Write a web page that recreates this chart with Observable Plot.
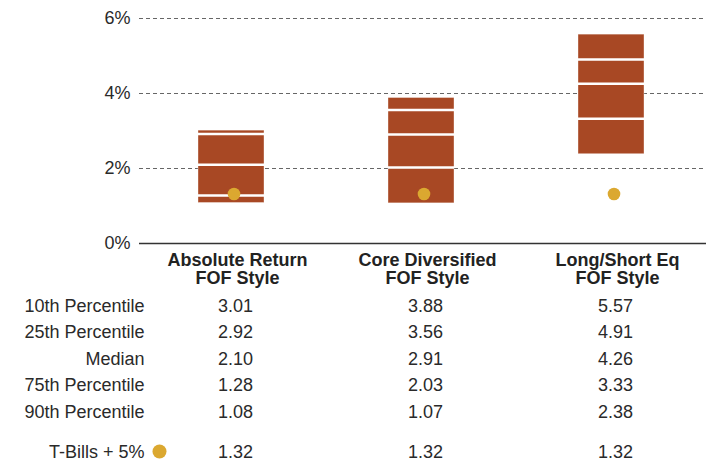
<!DOCTYPE html>
<html>
<head>
<meta charset="utf-8">
<script src="https://cdn.jsdelivr.net/npm/d3@7"></script>
<script src="https://cdn.jsdelivr.net/npm/@observablehq/plot@0.6"></script>
<style>
  html, body { margin: 0; padding: 0; background: #fff; }
</style>
</head>
<body>
<div id="chart"></div>
<script>
// ---- data ----
const categories = ["Absolute Return\nFOF Style", "Core Diversified\nFOF Style", "Long/Short Eq\nFOF Style"];
const p10 = [3.01, 3.88, 5.57];
const p25 = [2.92, 3.56, 4.91];
const median = [2.10, 2.91, 4.26];
const p75 = [1.28, 2.03, 3.33];
const p90 = [1.08, 1.07, 2.38];
const tbills = [1.32, 1.32, 1.32];
const rowLabels = ["10th Percentile", "25th Percentile", "Median", "75th Percentile", "90th Percentile", "T-Bills + 5%"];
const yTicks = [0, 2, 4, 6];

// ---- derived table ----
const series = [p10, p25, median, p75, p90, tbills];
const boxes = categories.map((c, i) => ({cat: c, lo: p90[i], hi: p10[i]}));
const lines = categories.flatMap((c, i) => [p25[i], median[i], p75[i]].map(v => ({cat: c, v})));
const dots = categories.map((c, i) => ({cat: c, v: tbills[i]}));

const BAR = "#a84824";
const GOLD = "#dba830";
const TXT = "#2a2a2a";
const rowDy = [68, 94.5, 121, 147.5, 174, 214];

const tableMarks = [];
series.forEach((vals, r) => {
  tableMarks.push(Plot.text(categories.map((c, i) => ({cat: c, v: vals[i]})), {
    x: "cat", text: d => d.v.toFixed(2), frameAnchor: "bottom",
    lineAnchor: "bottom", dy: rowDy[r], dx: 4, fill: TXT, fontSize: 18
  }));
  tableMarks.push(Plot.text([rowLabels[r]], {
    text: d => d, frameAnchor: "bottom-left", textAnchor: "end",
    lineAnchor: "bottom", dx: 9, dy: rowDy[r], fill: TXT, fontSize: 18
  }));
});

const chart = Plot.plot({
  width: 710,
  height: 461,
  marginLeft: 135,
  marginRight: 4,
  marginTop: 18,
  marginBottom: 218,
  style: {fontFamily: "'Liberation Sans', Arial, Helvetica, sans-serif", fontSize: "18px", color: TXT, background: "#fff"},
  x: {domain: categories, paddingInner: 0.653, paddingOuter: 0.3265, axis: null},
  y: {domain: [0, 6], axis: null},
  marks: [
    Plot.ruleY(yTicks.filter(d => d > 0), {stroke: "#666", strokeWidth: 1, strokeDasharray: "4,3", insetLeft: 4}),
    Plot.ruleY([0], {stroke: "#333", strokeWidth: 1.5, insetLeft: 4}),
    Plot.axisY({ticks: yTicks, tickFormat: d => d + "%", tickSize: 0, tickPadding: 5, label: null, fontSize: 18, fill: TXT}),
    Plot.barY(boxes, {x: "cat", y1: "lo", y2: "hi", fill: BAR, stroke: "#fff", strokeWidth: 0.6, strokeOpacity: 0.6}),
    Plot.tickY(lines, {x: "cat", y: "v", stroke: "#fff", strokeWidth: 2.5}),
    Plot.dot(dots, {x: "cat", y: "v", r: 6.3, fill: GOLD, dx: 2.5}),
    Plot.text(categories, {x: d => d, text: d => d, frameAnchor: "bottom", lineAnchor: "bottom",
      dy: 40, dx: 6, lineHeight: 1, fontWeight: "bold", fontSize: 18, fill: "#222"}),
    ...tableMarks,
    Plot.dot([0], {frameAnchor: "bottom-left", dx: 24, dy: 208, r: 7, fill: GOLD})
  ]
});
document.getElementById("chart").appendChild(chart);
</script>
</body>
</html>
